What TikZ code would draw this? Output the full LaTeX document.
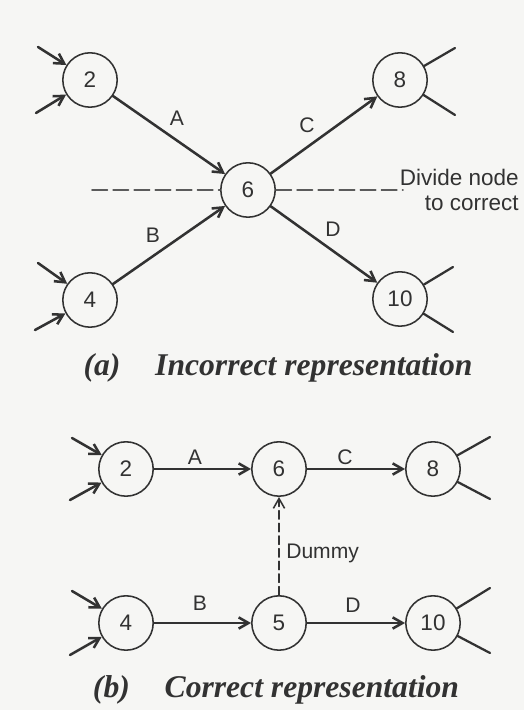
\documentclass[tikz,border=0pt]{standalone}
\usepackage{fontspec}
\setmainfont{Liberation Sans}
\newfontfamily\captionfont{Liberation Serif}
\usetikzlibrary{arrows.meta}
\definecolor{ink}{RGB}{50,50,50}
\definecolor{paper}{RGB}{246,246,244}

\tikzset{
  event/.style={circle,draw=ink,line width=1.1pt,minimum size=1.36cm,inner sep=0pt,
    font=\fontsize{16}{19}\selectfont,text=ink},
  act/.style={draw=ink,line width=1.8pt,-{Straight Barb[length=7pt,width=8pt]}},
  stub/.style={draw=ink,line width=1.6pt},
  divide/.style={draw=ink!80,line width=1.1pt,dash pattern=on 11pt off 4pt},
  dummy/.style={draw=ink,line width=1.1pt,dash pattern=on 6pt off 3pt,
    -{Straight Barb[length=7pt,width=8pt]}},
  lbl/.style={font=\fontsize{15}{18}\selectfont,text=ink,inner sep=0pt},
  capt/.style={font=\captionfont\bfseries\itshape\fontsize{22.5}{26}\selectfont,text=ink}
}

\begin{document}
\begin{tikzpicture}[line cap=round,line join=round,x=1.0cm,y=1.0cm,scale=0.5]
  \fill[paper] (0,0) rectangle (26.2,35.5);

  % (a) incorrect
  \node[event] (n2a) at (4.5,31.5) {2};
  \node[event] (n6a) at (12.4,26.0) {6};
  \node[event] (n8a) at (20.0,31.5) {8};
  \node[event] (n4a) at (4.5,20.5) {4};
  \node[event] (n10a) at (20.0,20.55) {10};

  \coordinate (i2a) at (1.9,33.15);
  \coordinate (j2a) at (1.8,29.85);
  \coordinate (i4a) at (1.9,22.35);
  \coordinate (j4a) at (1.75,19.0);
  \coordinate (o8a) at (22.75,33.1);
  \coordinate (p8a) at (22.75,29.75);
  \coordinate (o10a) at (22.65,22.15);
  \coordinate (p10a) at (22.65,18.9);
  \coordinate (dl) at (4.6,26.0);
  \coordinate (dr) at (20.15,26.0);

  \draw[act] (i2a) -- (n2a);
  \draw[act] (j2a) -- (n2a);
  \draw[act] (i4a) -- (n4a);
  \draw[act] (j4a) -- (n4a);
  \draw[stub] (n8a) -- (o8a);
  \draw[stub] (n8a) -- (p8a);
  \draw[stub] (n10a) -- (o10a);
  \draw[stub] (n10a) -- (p10a);

  \draw[act] (n2a) -- (n6a);
  \draw[act] (n4a) -- (n6a);
  \draw[act] (n6a) -- (n8a);
  \draw[act] (n6a) -- (n10a);
  \draw[divide] (dl) -- (n6a);
  \draw[divide] (n6a) -- (dr);

  \node[lbl] (la) at (8.85,29.6) {A};
  \node[lbl] (lc) at (15.35,29.25) {C};
  \node[lbl] (lb) at (7.65,23.75) {B};
  \node[lbl] (ld) at (16.65,24.05) {D};
  \node[lbl,align=right,anchor=east,font=\fontsize{16}{17.5}\selectfont] (note) at (25.95,26.0) {Divide node\\to correct};
  \node[capt] (capa) at (13.9,17.1) {(a)\hspace{1.1em}Incorrect representation};

  % (b) correct
  \node[event] (n2b) at (6.3,12.05) {2};
  \node[event] (n6b) at (13.95,12.05) {6};
  \node[event] (n8b) at (21.65,12.05) {8};
  \node[event] (n4b) at (6.3,4.35) {4};
  \node[event] (n5b) at (13.95,4.35) {5};
  \node[event] (n10b) at (21.65,4.35) {10};

  \coordinate (i2b) at (3.6,13.6);
  \coordinate (j2b) at (3.5,10.5);
  \coordinate (i4b) at (3.6,5.95);
  \coordinate (j4b) at (3.5,2.75);
  \coordinate (o8b) at (24.5,13.65);
  \coordinate (p8b) at (24.5,10.55);
  \coordinate (o10b) at (24.5,6.1);
  \coordinate (p10b) at (24.5,2.85);

  \draw[act] (i2b) -- (n2b);
  \draw[act] (j2b) -- (n2b);
  \draw[act] (i4b) -- (n4b);
  \draw[act] (j4b) -- (n4b);
  \draw[stub] (n8b) -- (o8b);
  \draw[stub] (n8b) -- (p8b);
  \draw[stub] (n10b) -- (o10b);
  \draw[stub] (n10b) -- (p10b);

  \draw[act] (n2b) -- (n6b);
  \draw[act] (n6b) -- (n8b);
  \draw[act] (n4b) -- (n5b);
  \draw[act] (n5b) -- (n10b);
  \draw[dummy] (n5b) -- (n6b);

  \node[lbl] (la2) at (9.75,12.65) {A};
  \node[lbl] (lc2) at (17.25,12.65) {C};
  \node[lbl] (lb2) at (10.0,5.35) {B};
  \node[lbl] (ld2) at (17.65,5.25) {D};
  \node[lbl,anchor=west] (ldm) at (14.3,7.85) {Dummy};
  \node[capt] (capb) at (13.8,1.0) {(b)\hspace{1.1em}Correct representation};
\end{tikzpicture}
\end{document}
